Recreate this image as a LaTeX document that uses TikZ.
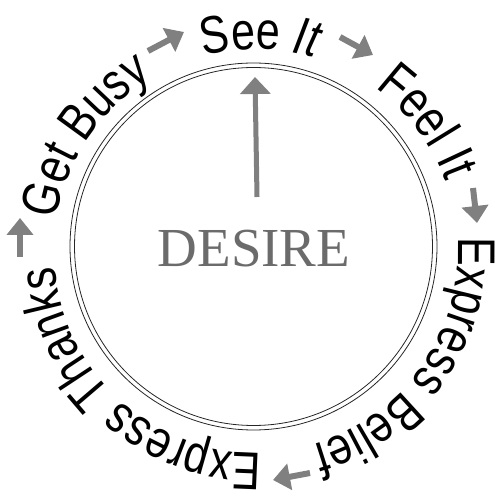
\documentclass[tikz,border=0pt]{standalone}
\usepackage{fontspec}
\setmainfont{Liberation Sans}[FakeStretch=0.81]
\newfontfamily\desirefont{Liberation Serif}
\usetikzlibrary{decorations.text,arrows.meta}
\definecolor{arrowgray}{HTML}{808080}
\definecolor{desiregray}{HTML}{6B6B6B}
\newcommand\lblfont{\fontsize{53}{60}\selectfont}
\tikzset{
 ring/.style={draw=black!85, line width=0.8pt},
 cyclearrow/.style={draw=arrowgray, line width=6pt, -{Triangle[width=26pt,length=17pt]}},
 mainarrow/.style={draw=arrowgray, line width=5pt, -{Triangle[width=30pt,length=17pt]}},
 labelarc/.style={decorate, decoration={text along path, text align=center, text={#1}}},
}
\begin{document}
\begin{tikzpicture}[x=1pt,y=1pt]
\useasboundingbox (0,0) rectangle (499,500);
\coordinate (C) at (253.5,253.5);
\coordinate (T) at (256,249);
\draw[ring] (C) circle[radius=183.5];
\draw[ring] (C) circle[radius=179];
% labels around the ring
\path[labelarc={|\lblfont|See |\lblfont\itshape|It}] ([shift={(149:202)}]T) arc[start angle=149, end angle=29, radius=202];
\path[labelarc={|\lblfont|Feel It}] ([shift={(97:202)}]T) arc[start angle=97, end angle=-23, radius=202];
\path[labelarc={|\lblfont|Express Belief}] ([shift={(35:202)}]T) arc[start angle=35, end angle=-105, radius=202];
\path[labelarc={|\lblfont|Express Thanks}] ([shift={(-62:202)}]T) arc[start angle=-62, end angle=-202, radius=202];
\path[labelarc={|\lblfont|Get Busy}] ([shift={(206:202)}]T) arc[start angle=206, end angle=86, radius=202];
% cycle arrows
\coordinate (a1s) at (148,449); \coordinate (a1e) at (184,468);
\coordinate (a2s) at (340,463); \coordinate (a2e) at (373,445);
\coordinate (a3s) at (473,312); \coordinate (a3e) at (477,277);
\coordinate (a4s) at (310,27);  \coordinate (a4e) at (273,20);
\coordinate (a5s) at (20,243);  \coordinate (a5e) at (20,282);
\draw[cyclearrow] (a1s) -- (a1e);
\draw[cyclearrow] (a2s) -- (a2e);
\draw[cyclearrow] (a3s) -- (a3e);
\draw[cyclearrow] (a4s) -- (a4e);
\draw[cyclearrow] (a5s) -- (a5e);
% centre
\node[font=\desirefont\fontsize{55}{60}\selectfont, text=desiregray, anchor=base, inner sep=0pt] (desire) at (254,233) {DESIRE};
\coordinate (ms) at (257,303);
\coordinate (mt) at (255,423);
\draw[mainarrow] (ms) -- (mt);
\end{tikzpicture}
\end{document}
